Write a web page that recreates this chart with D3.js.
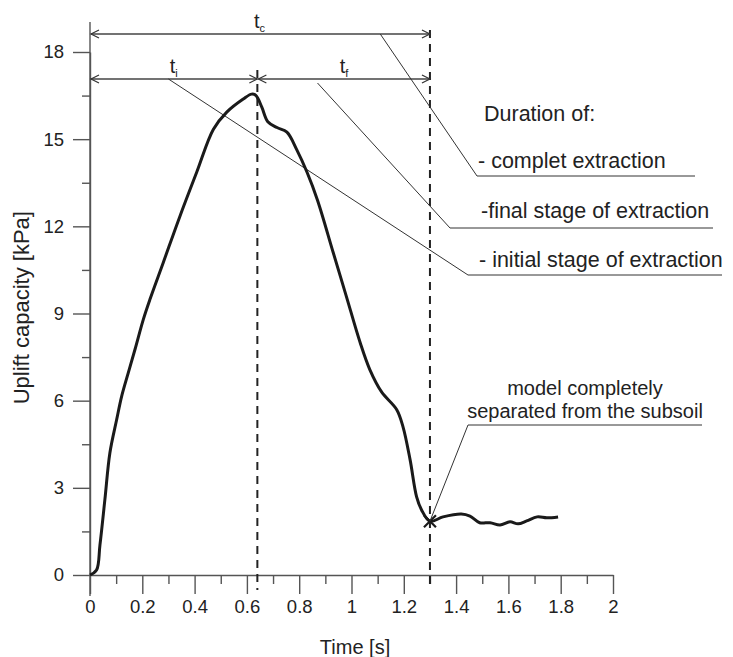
<!DOCTYPE html>
<html>
<head>
<meta charset="utf-8">
<script src="https://cdn.jsdelivr.net/npm/d3@7"></script>
<style>
  body { margin: 0; background: #fff; }
  svg { font-family: "Liberation Sans", Arial, sans-serif; }
  .axis path, .axis line { stroke: #555; stroke-width: 1.4; }
  .axis text { fill: #222; font-size: 18.5px; }
  .dim { stroke: #444; stroke-width: 1.4; fill: none; }
  .leader { stroke: #333; stroke-width: 1; fill: none; }
  .label { fill: #222; font-size: 21.5px; }
</style>
</head>
<body>
<script>
(function(){

//curve
var time = [0, 0.025, 0.038, 0.057, 0.076, 0.102, 0.121, 0.146, 0.172, 0.204, 0.229, 0.28, 0.344,
  0.408, 0.472, 0.523, 0.586, 0.618, 0.635, 0.657, 0.68, 0.715, 0.753, 0.79, 0.83, 0.87, 0.93,
  0.98, 1.033, 1.07, 1.115, 1.173, 1.197, 1.224, 1.249, 1.268, 1.3, 1.35, 1.42, 1.453, 1.49,
  1.53, 1.568, 1.606, 1.637, 1.67, 1.71, 1.747, 1.79];
var uplift = [0, 0.17, 1.03, 2.6, 4.2, 5.35, 6.15, 6.95, 7.76, 8.8, 9.48, 10.75, 12.35,
  13.86, 15.34, 15.93, 16.38, 16.55, 16.5, 16.1, 15.6, 15.4, 15.24, 14.65, 13.86, 12.9, 11.1,
  9.6, 8.0, 7.07, 6.3, 5.69, 5.1, 3.97, 2.69, 2.24, 1.85, 2.0, 2.1, 2.03, 1.8,
  1.8, 1.72, 1.83, 1.76, 1.86, 2.0, 1.97, 2.0];

var xTicks = [0, 0.2, 0.4, 0.6, 0.8, 1, 1.2, 1.4, 1.6, 1.8, 2];
var xMinorTicks = [0.1, 0.3, 0.5, 0.7, 0.9, 1.1, 1.3, 1.5, 1.7, 1.9];
var yTicks = [0, 3, 6, 9, 12, 15, 18];
var yMinorTicks = [1.5, 4.5, 7.5, 10.5, 13.5, 16.5];

//key instants and the separation point
var tInitial = 0.64, tComplete = 1.3, upliftSeparation = 1.85;

var legendTitle = "Duration of:";
var legendItems = ["- complet extraction", "-final stage of extraction", "- initial stage of extraction"];
var separationText = ["model completely", "separated from the subsoil"];

var width = 733, height = 657;

var svg = d3.select("body").append("svg")
  .attr("width", width)
  .attr("height", height);

var x = d3.scaleLinear().domain([0, 2]).range([90, 613]);
var y = d3.scaleLinear().domain([0, 18]).range([575, 52]);

//arrow head (open chevron)
svg.append("defs").append("marker")
  .attr("id", "chev")
  .attr("viewBox", "-10 -5 12 10")
  .attr("refX", 0).attr("refY", 0)
  .attr("markerWidth", 12).attr("markerHeight", 10)
  .attr("markerUnits", "userSpaceOnUse")
  .attr("orient", "auto-start-reverse")
  .append("path")
  .attr("d", "M-8,-4L0,0L-8,4")
  .attr("fill", "none")
  .attr("stroke", "#333")
  .attr("stroke-width", 1.2);

//axes
svg.append("g").attr("class", "axis")
  .attr("transform", "translate(" + x(0) + ",0)")
  .call(d3.axisLeft(y).tickValues(yTicks).tickSize(17).tickPadding(9).tickSizeOuter(0));
svg.append("g").attr("class", "axis")
  .attr("transform", "translate(" + x(0) + ",0)")
  .call(d3.axisLeft(y).tickValues(yMinorTicks).tickSize(8).tickFormat("").tickSizeOuter(0))
  .select(".domain").remove();
svg.append("line")
  .attr("x1", x(0)).attr("x2", x(0))
  .attr("y1", 22).attr("y2", 596)
  .attr("stroke", "#555").attr("stroke-width", 1.4);

svg.append("g").attr("class", "axis")
  .attr("transform", "translate(0," + y(0) + ")")
  .call(d3.axisBottom(x).tickValues(xTicks).tickSize(19).tickPadding(6).tickSizeOuter(0)
    .tickFormat(d3.format("~g")));
svg.append("g").attr("class", "axis")
  .attr("transform", "translate(0," + y(0) + ")")
  .call(d3.axisBottom(x).tickValues(xMinorTicks).tickSize(9).tickFormat("").tickSizeOuter(0))
  .select(".domain").remove();

//axis titles
svg.append("text").attr("class", "label")
  .attr("text-anchor", "middle")
  .attr("transform", "translate(29," + y(9.2) + ") rotate(-90)")
  .style("font-size", "22px")
  .text("Uplift capacity [kPa]");
svg.append("text").attr("class", "label")
  .attr("x", 355).attr("y", 654)
  .attr("text-anchor", "middle")
  .style("font-size", "20px")
  .text("Time [s]");

//dashed guides
svg.append("line")
  .attr("x1", x(tInitial)).attr("x2", x(tInitial))
  .attr("y1", 70).attr("y2", 590)
  .attr("stroke", "#222").attr("stroke-width", 2)
  .attr("stroke-dasharray", "8,6");
svg.append("line")
  .attr("x1", x(tComplete)).attr("x2", x(tComplete))
  .attr("y1", 30).attr("y2", 590)
  .attr("stroke", "#222").attr("stroke-width", 2)
  .attr("stroke-dasharray", "8,6");

//dimension arrows
var yRowC = 34, yRowIF = 79;
function dimArrow(t0, t1, yy){
  svg.append("line").attr("class", "dim")
    .attr("x1", x(t0) + 1).attr("x2", x(t1))
    .attr("y1", yy).attr("y2", yy)
    .attr("marker-start", "url(#chev)")
    .attr("marker-end", "url(#chev)");
}
dimArrow(0, tComplete, yRowC);
dimArrow(0, tInitial, yRowIF);
dimArrow(tInitial, tComplete, yRowIF);

function subLabel(main, sub, xx, yy){
  var t = svg.append("text").attr("x", xx).attr("y", yy)
    .attr("fill", "#222").attr("font-size", 20);
  t.append("tspan").text(main);
  t.append("tspan").attr("font-size", 11).attr("dy", 4).text(sub);
}
subLabel("t", "c", x(tComplete / 2) - 6, 28);
subLabel("t", "i", x(tInitial / 2) - 4, 73);
subLabel("t", "f", x((tInitial + tComplete) / 2) - 4, 73);

//leader lines to the legend
var leaders = [
  {start: [x(1.11), yRowC], knee: [477, 176], end: 695, textX: 478, textY: 168},
  {start: [x(0.87), yRowIF + 4], knee: [450, 228], end: 713, textX: 481, textY: 218},
  {start: [x(0.3), yRowIF], knee: [468, 275], end: 722, textX: 479, textY: 267}
];
leaders.forEach(function(l, i){
  svg.append("path").attr("class", "leader")
    .attr("d", "M" + l.start + "L" + l.knee + "L" + [l.end, l.knee[1]]);
  svg.append("text").attr("class", "label")
    .attr("x", l.textX).attr("y", l.textY)
    .text(legendItems[i]);
});
svg.append("text").attr("class", "label")
  .attr("x", 484).attr("y", 121)
  .text(legendTitle);

//main curve
var line = d3.line()
  .x(function(d){ return x(d[0]); })
  .y(function(d){ return y(d[1]); })
  .curve(d3.curveCatmullRom.alpha(0.5));
svg.append("path")
  .datum(d3.zip(time, uplift))
  .attr("d", line)
  .attr("fill", "none")
  .attr("stroke", "#1a1a1a")
  .attr("stroke-width", 3)
  .attr("stroke-linejoin", "round");

//separation marker
var sx = x(tComplete), sy = y(upliftSeparation);
svg.append("path")
  .attr("d", "M" + (sx - 6) + "," + (sy - 6) + "L" + (sx + 6) + "," + (sy + 6) +
    "M" + (sx - 6) + "," + (sy + 6) + "L" + (sx + 6) + "," + (sy - 6))
  .attr("stroke", "#1a1a1a").attr("stroke-width", 2.2);

svg.append("path").attr("class", "leader")
  .attr("d", "M" + [sx, sy] + "L" + [468, 425] + "L" + [702, 425]);
separationText.forEach(function(s, i){
  svg.append("text").attr("class", "label")
    .attr("x", 585).attr("y", 395 + i * 23)
    .attr("text-anchor", "middle")
    .style("font-size", "20px")
    .text(s);
});

})();
</script>
</body>
</html>
